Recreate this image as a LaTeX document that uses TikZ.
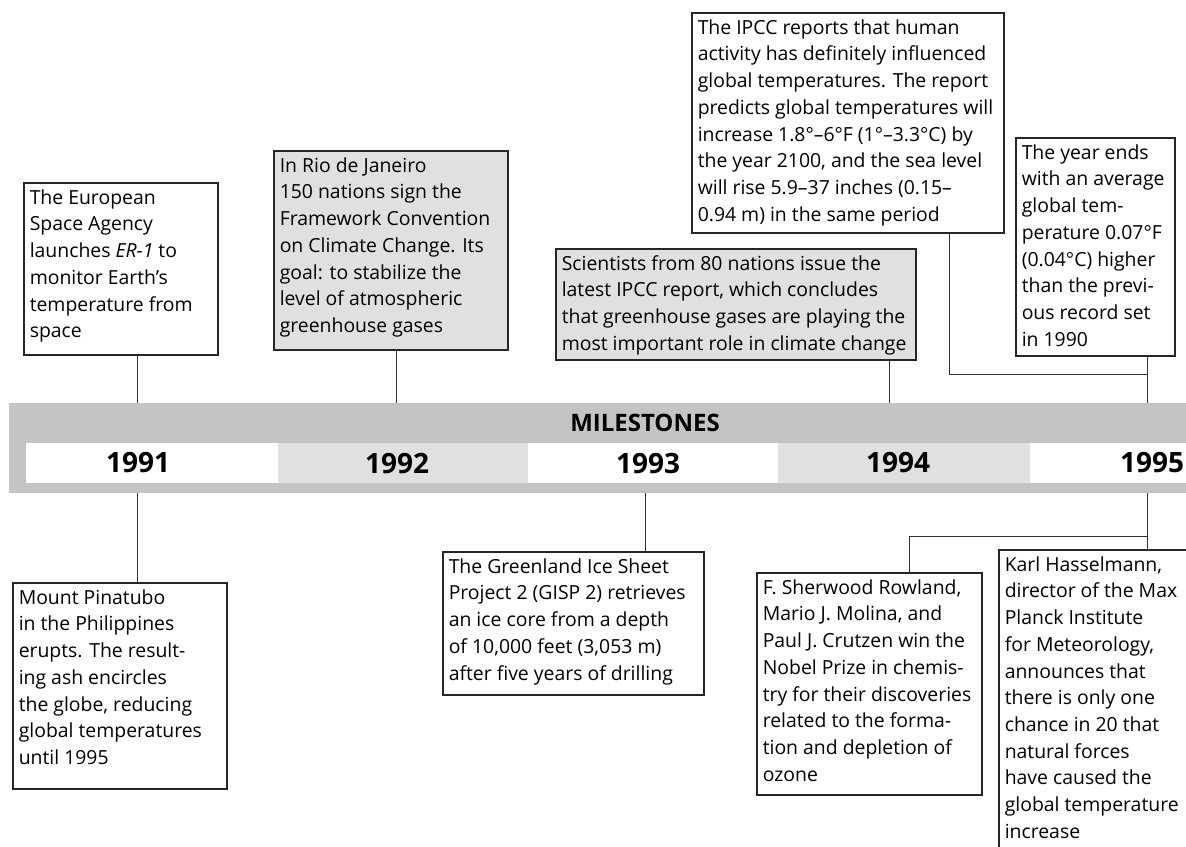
\documentclass[tikz,border=0pt]{standalone}
\usepackage{fontspec}
\setmainfont{Open Sans}
\usepackage{xcolor}
\usepackage{tikz}
\usetikzlibrary{positioning}

\definecolor{bandgray}{HTML}{C4C4C4}
\definecolor{cellgray}{HTML}{E0E0E0}

% text of one event box: width, height, lines
\newcommand{\evtfont}{\fontsize{9.7}{13.35}\selectfont}
\newcommand{\evtbox}[3]{\parbox[t][#2][t]{#1}{\raggedright\strut#3}}

\begin{document}
\begin{tikzpicture}[
  x=0.5pt, y=-0.5pt,
  event/.style={draw=black!85, line width=0.75pt, anchor=north west, inner xsep=3pt, inner ysep=1.4pt, font=\evtfont},
  shaded/.style={event, fill=cellgray},
  cell/.style={anchor=north west, inner sep=0pt, minimum height=20pt},
  year/.style={font=\fontsize{14}{15}\selectfont\bfseries, inner sep=0pt},
  link/.style={draw=black!80, line width=0.5pt}
]
\useasboundingbox (0,0) rectangle (1186,846);
\clip (0,0) rectangle (1186,846);

% Milestone band
\node[cell, fill=bandgray, minimum width=600pt, minimum height=45pt] (band) at (9,403) {};
\node[cell, fill=white, minimum width=126pt] (c91) at (26,443) {};
\node[cell, fill=cellgray, minimum width=125pt] (c92) at (278,443) {};
\node[cell, fill=white, minimum width=125pt] (c93) at (528,443) {};
\node[cell, fill=cellgray, minimum width=126pt] (c94) at (778,443) {};
\node[cell, fill=white, minimum width=130pt] (c95) at (1030,443) {};
\node[font=\fontsize{12}{13}\selectfont\bfseries, inner sep=0pt] (title) at (645,423) {MILESTONES};
\node[year] (y91) at (138,463) {1991};
\node[year] (y92) at (397,463) {1992};
\node[year] (y93) at (648,463) {1993};
\node[year] (y94) at (898,463) {1994};
\node[year] (y95) at (1152,463) {1995};

% Tick points on the band edges
\coordinate (t91) at (137,403);
\coordinate (t92) at (396,403);
\coordinate (t94) at (889,403);
\coordinate (t95) at (1147,403);
\coordinate (b91) at (137,493);
\coordinate (b93) at (645,493);
\coordinate (b95) at (1147,493);
\coordinate (e95) at (949,374);
\coordinate (f95) at (909,536);

% Events above the band
\node[event] (esa) at (23,182) {\evtbox{91pt}{83.2pt}{The European\\Space Agency\\launches \textit{ER-1} to\\monitor Earth’s\\temperature from\\space}};
\node[shaded] (rio) at (273,150) {\evtbox{111pt}{96.7pt}{In Rio de Janeiro\\150 nations sign the\\Framework Convention\\on Climate Change. Its\\goal: to stabilize the\\level of atmospheric\\greenhouse gases}};
\node[event] (ipcc) at (691,12) {\evtbox{150pt}{107.2pt}{The IPCC reports that human\\activity has definitely influenced\\global temperatures. The report\\predicts global temperatures will\\increase 1.8°–6°F (1°–3.3°C) by\\the year 2100, and the sea level\\will rise 5.9–37 inches (0.15–\\0.94 m) in the same period}};
\node[shaded] (sci) at (555,248) {\evtbox{174pt}{52.7pt}{Scientists from 80 nations issue the\\latest IPCC report, which concludes\\that greenhouse gases are playing the\\most important role in climate change}};
\node[event] (yrend) at (1015,137) {\evtbox{73.5pt}{106.2pt}{The year ends\\with an average\\global tem-\\perature 0.07°F\\(0.04°C) higher\\than the previ-\\ous record set\\in 1990}};

% Events below the band
\node[event] (pinatubo) at (12,582) {\evtbox{101pt}{100.2pt}{Mount Pinatubo\\in the Philippines\\erupts. The result-\\ing ash encircles\\the globe, reducing\\global temperatures\\until 1995}};
\node[event] (gisp) at (442,551) {\evtbox{124.5pt}{68.7pt}{The Greenland Ice Sheet\\Project 2 (GISP 2) retrieves\\an ice core from a depth\\of 10,000 feet (3,053 m)\\after five years of drilling}};
\node[event] (rowland) at (756,572) {\evtbox{106.5pt}{108.2pt}{F. Sherwood Rowland,\\Mario J. Molina, and\\Paul J. Crutzen win the\\Nobel Prize in chemis-\\try for their discoveries\\related to the forma-\\tion and depletion of\\ozone}};
\node[event] (hassel) at (998,549) {\evtbox{95pt}{163pt}{Karl Hasselmann,\\director of the Max\\Planck Institute\\for Meteorology,\\announces that\\there is only one\\chance in 20 that\\natural forces\\have caused the\\global temperature\\increase}};

% Connectors
\draw[link] (esa.south -| t91) -- (t91);
\draw[link] (rio.south -| t92) -- (t92);
\draw[link] (sci.south -| t94) -- (t94);
\draw[link] (yrend.south -| t95) -- (t95);
\draw[link] (ipcc.south -| e95) -- (e95) -- (e95 -| t95);
\draw[link] (b91) -- (b91 |- pinatubo.north);
\draw[link] (b93) -- (b93 |- gisp.north);
\draw[link] (b95) -- (b95 |- hassel.north);
\draw[link] (rowland.north -| f95) -- (f95) -- (f95 -| b95);

\end{tikzpicture}
\end{document}
